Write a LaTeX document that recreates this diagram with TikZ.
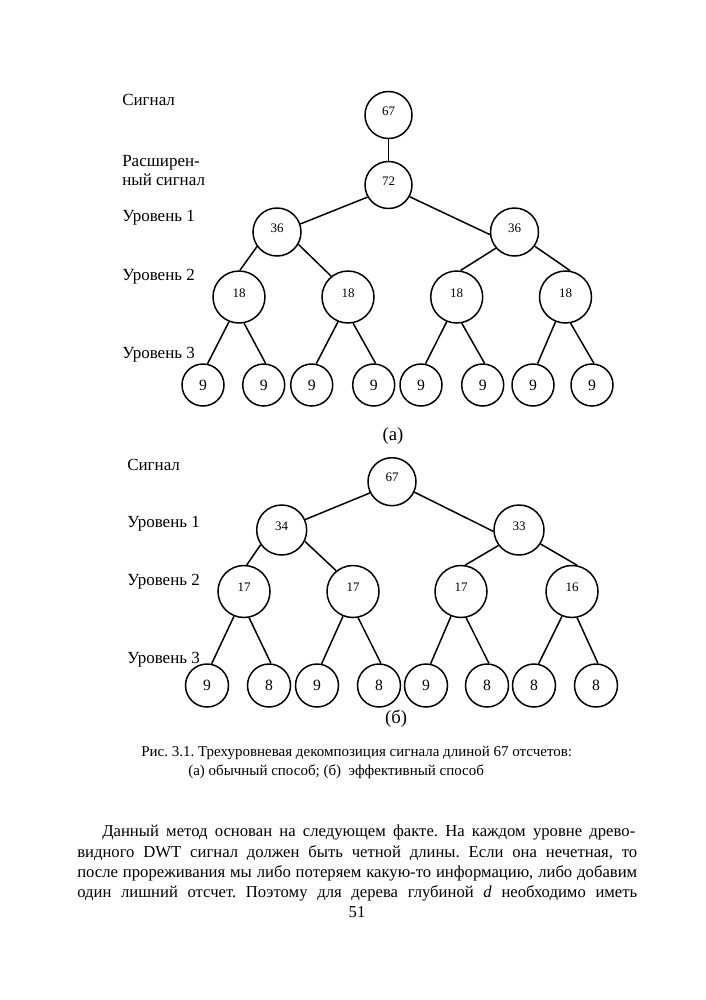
\documentclass[tikz,border=0pt]{standalone}
\usepackage{fontspec}
\setmainfont{Liberation Serif}
\frenchspacing
\newdimen\pxu \pxu=0.75pt
\newcommand\rsnum[1]{\raisebox{0pt}[0pt][0pt]{#1}}
\begin{document}
\begin{tikzpicture}[x=0.75pt,y=-0.75pt,
  circ/.style={circle,draw,line width=1.125pt,inner sep=0pt},
  edge/.style={line width=1.125pt},
  lbl/.style={anchor=base west,inner sep=0pt,font=\fontsize{12.75}{15}\selectfont},
  sn/.style={font=\fontsize{9.75}{11}\selectfont},
  bn/.style={font=\fontsize{11.75}{13}\selectfont},
  sub/.style={inner sep=0pt,font=\fontsize{14}{16}\selectfont},
  captxt/.style={anchor=base west,inner sep=0pt,font=\fontsize{11.25}{13}\selectfont},
  body/.style={anchor=base west,inner sep=0pt,font=\fontsize{12.5}{15}\selectfont}]
\useasboundingbox (0,0) rectangle (706,1000);

% ---------- tree (a) ----------
\node[lbl] (la0) at (122,105) {Сигнал};
\node[lbl] (la1) at (122,166) {Расширен-};
\node[lbl] (la1b) at (122,185) {ный сигнал};
\node[lbl] (la2) at (122,221) {Уровень 1};
\node[lbl] (la3) at (122,280) {Уровень 2};
\node[lbl] (la4) at (122,358) {Уровень 3};

\node[circ,minimum size=47*0.75pt,sn] (a0) at (388.5,115) {\rsnum{67}};
\node[circ,minimum size=47*0.75pt,sn] (a1) at (388.5,185) {\rsnum{72}};
\node[circ,minimum size=48*0.75pt,sn] (a2-1) at (277,232) {\rsnum{36}};
\node[circ,minimum size=48*0.75pt,sn] (a2-2) at (514.5,232) {\rsnum{36}};
\foreach \i/\x in {1/239,2/348,3/456.7,4/565.5}
  \node[circ,minimum size=52*0.75pt,sn] (a3-\i) at (\x,297) {\rsnum{18}};
\foreach \i/\x in {1/203,2/263.7,3/311.7,4/373.7,5/421,6/482.7,7/533,8/592}
  \node[circ,minimum size=42*0.75pt,bn] (a4-\i) at (\x,385) {9};

\draw[edge] (a0.south) -- (a1.north);
\draw[edge] (a1.-150) -- (a2-1.19);
\draw[edge] (a1.-29) -- (a2-2.186);
\draw[edge] (a2-1.-144) -- (a3-1.88);
\draw[edge] (a2-1.-30) -- (a3-2.129);
\draw[edge] (a2-2.-139) -- (a3-3.82);
\draw[edge] (a2-2.-35) -- (a3-4.80);
\foreach \p/\l/\r in {1/1/2,2/3/4,3/5/6,4/7/8}{
  \draw[edge] (a3-\p.-112) -- (a4-\l.78);
  \draw[edge] (a3-\p.-79) -- (a4-\r.85);
}
\node[sub] (capa) at (393,436) {(а)};

% ---------- tree (b) ----------
\node[lbl] (lb0) at (127,470) {Сигнал};
\node[lbl] (lb1) at (127,527) {Уровень 1};
\node[lbl] (lb2) at (127,585) {Уровень 2};
\node[lbl] (lb3) at (127,663) {Уровень 3};

\node[circ,minimum size=48*0.75pt,sn] (b0) at (392,481.7) {\rsnum{67}};
\node[circ,minimum size=50*0.75pt,sn] (b1-1) at (281.7,530) {\rsnum{34}};
\node[circ,minimum size=50*0.75pt,sn] (b1-2) at (519,530) {\rsnum{33}};
\foreach \i/\x/\t in {1/244/17,2/353/17,3/461/17,4/572/16}
  \node[circ,minimum size=52*0.75pt,sn] (b2-\i) at (\x,591.5) {\rsnum{\t}};
\foreach \i/\x/\t in {1/207/9,2/269/8,3/317/9,4/379/8,5/426/9,6/487/8,7/534/8,8/596/8}
  \node[circ,minimum size=43*0.75pt,bn] (b3-\i) at (\x,685.5) {\t};

\draw[edge] (b0.-153) -- (b1-1.24);
\draw[edge] (b0.-25) -- (b1-2.183);
\draw[edge] (b1-1.-145) -- (b2-1.84);
\draw[edge] (b1-1.-26) -- (b2-2.129);
\draw[edge] (b1-2.-143) -- (b2-3.81);
\draw[edge] (b1-2.-33) -- (b2-4.79);
\foreach \p/\l/\r in {1/1/2,2/3/4,3/5/6,4/7/8}{
  \draw[edge] (b2-\p.-112) -- (b3-\l.78);
  \draw[edge] (b2-\p.-79) -- (b3-\r.85);
}
\node[sub] (capb) at (396,719) {(б)};

% ---------- caption ----------
\node[captxt] (c1) at (141,756) {Рис. 3.1. Трехуровневая декомпозиция сигнала длиной 67 отсчетов:};
\node[captxt] (c2) at (188,775) {(а) обычный способ; (б)\ \ эффективный способ};

% ---------- body text ----------
\node[body] (p1) at (102,836) {\makebox[533\pxu][s]{Данный метод основан на следующем факте. На каждом уровне древо-}};
\node[body] (p2) at (77,857) {\makebox[560\pxu][s]{видного DWT сигнал должен быть четной длины. Если она нечетная, то}};
\node[body] (p3) at (77,877) {\makebox[560\pxu][s]{после прореживания мы либо потеряем какую-то информацию, либо добавим}};
\node[body] (p4) at (77,897) {\makebox[560\pxu][s]{один лишний отсчет. Поэтому для дерева глубиной \textit{d} необходимо иметь}};
\node[body,anchor=base] (pg) at (357,917) {51};
\end{tikzpicture}
\end{document}
